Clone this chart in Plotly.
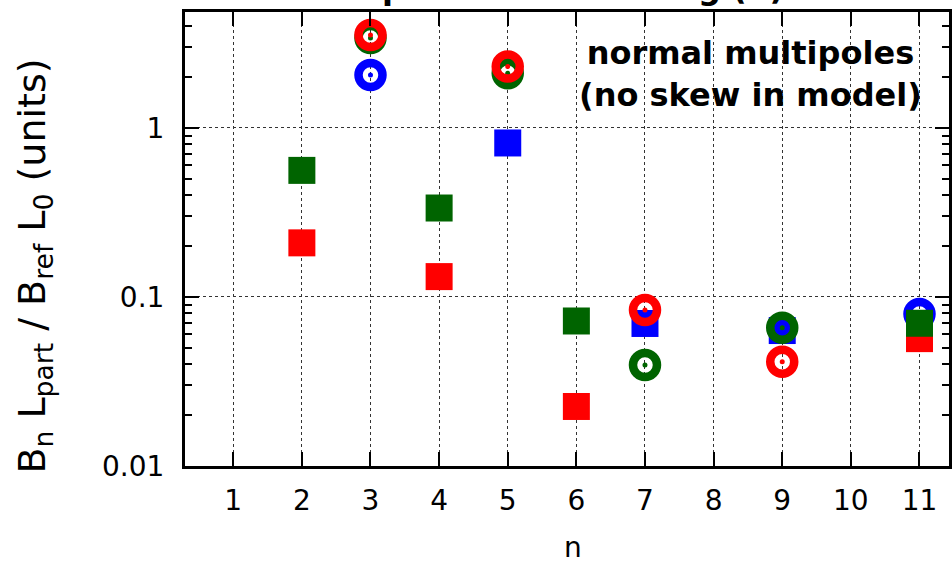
import plotly.graph_objects as go

n_vals = list(range(1, 12))
x_tick_labels = [str(v) for v in n_vals]
y_tick_vals = [0.01, 0.1, 1]
y_tick_labels = ["0.01", "0.1", "1"]
y_minor_vals = [0.02, 0.03, 0.04, 0.05, 0.06, 0.07, 0.08, 0.09,
                0.2, 0.3, 0.4, 0.5, 0.6, 0.7, 0.8, 0.9, 2, 3, 4]

# circles (open rings with centre dot)
blue_circ  = [None, None, 2.06, None, None, None, None, None, None, None, 0.0793]
green_circ = [None, None, 3.41, None, 2.11, None, 0.0396, None, 0.0658, None, None]
red_circ   = [None, None, 3.55, None, 2.31, None, 0.0838, None, 0.0414, None, None]
# filled squares
blue_sq  = [None, None, None, None, 0.815, None, 0.0697, None, 0.0633, None, None]
green_sq = [None, 0.561, None, 0.336, None, 0.0721, None, None, None, None, 0.0699]
red_sq   = [None, 0.209, None, 0.132, None, 0.0225, None, None, None, None, 0.0567]

BLUE = "#0000ff"
GREEN = "#006400"
RED = "#ff0000"

fig = go.Figure()

def squares(vals, color):
    fig.add_trace(go.Scatter(x=n_vals, y=vals, mode="markers",
                             marker=dict(symbol="square", size=27, color=color,
                                         line=dict(width=0)),
                             showlegend=False, hoverinfo="skip"))

def rings(vals, color):
    fig.add_trace(go.Scatter(x=n_vals, y=vals, mode="markers",
                             marker=dict(symbol="circle-open", size=24, color=color,
                                         line=dict(width=8.5, color=color)),
                             showlegend=False, hoverinfo="skip"))
    fig.add_trace(go.Scatter(x=n_vals, y=vals, mode="markers",
                             marker=dict(symbol="circle", size=5, color=color,
                                         line=dict(width=0)),
                             showlegend=False, hoverinfo="skip"))

squares(blue_sq, BLUE)
rings(blue_circ, BLUE)
squares(red_sq, RED)
squares(green_sq, GREEN)
rings(green_circ, GREEN)
rings(red_circ, RED)

FONT = "DejaVu Sans, Liberation Sans, sans-serif"

fig.update_layout(
    width=952, height=563,
    margin=dict(l=185, r=0, t=12, b=97),
    plot_bgcolor="white", paper_bgcolor="white",
    font=dict(family=FONT, size=28, color="black"),
    xaxis=dict(range=[0.297, 11.43], tickvals=n_vals, ticktext=x_tick_labels,
               showline=True, linewidth=3, linecolor="black", mirror="ticks",
               ticks="inside", ticklen=14, tickwidth=2, tickcolor="black",
               showgrid=True, gridcolor="#333", griddash="dot", gridwidth=1,
               zeroline=False, ticklabelstandoff=7,
               tickfont=dict(size=28)),
    yaxis=dict(type="log", range=[-2.0, 0.686], tickvals=y_tick_vals,
               ticktext=y_tick_labels,
               showline=True, linewidth=3, linecolor="black", mirror="ticks",
               ticks="inside", ticklen=14, tickwidth=2, tickcolor="black",
               showgrid=True, gridcolor="#333", griddash="dot", gridwidth=1,
               zeroline=False, ticklabelstandoff=12,
               minor=dict(tickmode="array", tickvals=y_minor_vals,
                          ticks="inside", ticklen=7, tickwidth=2,
                          tickcolor="black", showgrid=False),
               tickfont=dict(size=28)),
)

# axis titles and text
fig.add_annotation(xref="paper", yref="paper",
                   x=(33 - 185) / 767, y=(466 - 266) / 454,
                   text="B<sub>n</sub> L<sub>part</sub> / B<sub>ref</sub> L<sub>0</sub> (units)",
                   textangle=-90, showarrow=False,
                   font=dict(size=38, family=FONT),
                   xanchor="center", yanchor="middle")
fig.add_annotation(xref="x", yref="paper", x=5.95, y=(466 - 547) / 454,
                   text="n", showarrow=False, font=dict(size=28, family=FONT),
                   xanchor="center", yanchor="middle")
fig.add_annotation(xref="paper", yref="paper",
                   x=(753 - 185) / 767, y=(466 - 73.5) / 454,
                   text="<b>normal multipoles<br>(no skew in model)</b>",
                   showarrow=False, font=dict(size=32, family=FONT),
                   xanchor="center", yanchor="middle", align="center")
# title, mostly cut off at the top of the picture
fig.add_annotation(xref="paper", yref="paper",
                   x=(145 - 185) / 767, y=(466 + 12) / 454,
                   text="<b>Normal multipole content along (u)</b>",
                   showarrow=False, font=dict(size=32, family=FONT),
                   xanchor="left", yanchor="middle")

fig.write_html("out.html")
